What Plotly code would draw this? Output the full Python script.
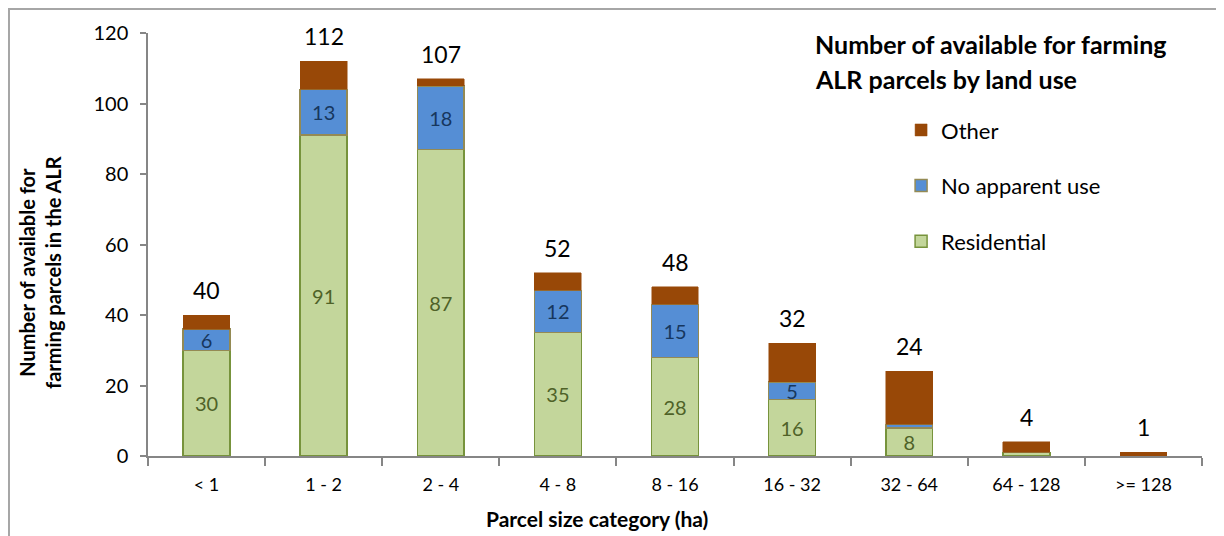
import plotly.graph_objects as go

# parcel size categories (ha)
categories = ["< 1", "1 - 2", "2 - 4", "4 - 8", "8 - 16", "16 - 32", "32 - 64", "64 - 128", ">= 128"]
residential = [30, 91, 87, 35, 28, 16, 8, 1, 0]
no_use = [6, 13, 18, 12, 15, 5, 1, 0, 0]
other = [4, 8, 2, 5, 5, 11, 15, 3, 1]
totals = [40, 112, 107, 52, 48, 32, 24, 4, 1]

res_labels = [str(v) if v >= 8 else "" for v in residential]
use_labels = [str(v) if v >= 5 else "" for v in no_use]

FONT = "Lato, 'Open Sans', sans-serif"

fig = go.Figure()
fig.add_trace(go.Bar(
    x=categories, y=residential, name="Residential",
    marker=dict(color="#C3D69B", line=dict(color="#77933C", width=1.5)),
    text=res_labels, textposition="inside", insidetextanchor="middle",
    textangle=0, constraintext="none",
    textfont=dict(size=20, color="#4F6228", family=FONT),
    legendgroup="r", legendrank=3,
))
fig.add_trace(go.Bar(
    x=categories, y=no_use, name="No apparent use",
    marker=dict(color="#558ED5", line=dict(color="#948A54", width=1.5)),
    text=use_labels, textposition="inside", insidetextanchor="middle",
    textangle=0, constraintext="none",
    textfont=dict(size=20, color="#17375E", family=FONT),
    legendgroup="n", legendrank=2,
))
fig.add_trace(go.Bar(
    x=categories, y=other, name="Other",
    marker=dict(color="#984807", line=dict(color="#984807", width=0.5)),
    legendgroup="o", legendrank=1,
))

# totals above each stack
for c, t in zip(categories, totals):
    fig.add_annotation(x=c, y=t, text=str(t), showarrow=False, yanchor="middle",
                       yshift=25, font=dict(size=23, color="black", family=FONT))

# legend title (two lines)
fig.add_annotation(xref="paper", yref="paper", x=0.631, y=0.974, xanchor="left", yanchor="middle",
                   text="<b>Number of available for farming</b>", showarrow=False,
                   font=dict(size=25, color="black", family=FONT))
fig.add_annotation(xref="paper", yref="paper", x=0.631, y=0.891, xanchor="left", yanchor="middle",
                   text="<b>ALR parcels by land use</b>", showarrow=False,
                   font=dict(size=25, color="black", family=FONT))

# axis titles
fig.add_annotation(xref="paper", yref="paper", x=0.426, y=-0.147, xanchor="center", yanchor="middle",
                   text="<b>Parcel size category (ha)</b>", showarrow=False,
                   font=dict(size=21, color="black", family=FONT))
fig.add_annotation(xref="paper", yref="paper", x=-0.1025, y=0.435, xanchor="center", yanchor="middle",
                   text="<b>Number of available for<br>farming parcels in the ALR</b>", showarrow=False,
                   textangle=-90, font=dict(size=20, color="black", family=FONT))

# chart frame
fig.add_shape(type="rect", xref="paper", yref="paper", x0=-0.1319, x1=1.2, y0=-0.4, y1=1.0567,
              line=dict(color="#A6A6A6", width=2), layer="above")

fig.update_layout(
    width=1216, height=528,
    margin=dict(l=140, r=22, t=25, b=80),
    paper_bgcolor="white", plot_bgcolor="white",
    barmode="stack", bargap=0.6,
    font=dict(family=FONT, color="black"),
    showlegend=True,
    legend=dict(x=0.7145, y=0.82, xanchor="left", yanchor="top",
                traceorder="grouped", tracegroupgap=24,
                font=dict(size=22, family=FONT, color="black"),
                bgcolor="rgba(0,0,0,0)"),
)
fig.update_xaxes(
    type="category", showline=True, linecolor="#868686", linewidth=1.5,
    ticks="outside", tickson="boundaries", ticklen=8, tickcolor="#868686", tickwidth=1.5,
    ticklabelstandoff=12, tickfont=dict(size=18, family=FONT, color="black"),
    showgrid=False, zeroline=False,
)
fig.update_yaxes(
    range=[0, 120], dtick=20, showline=True, linecolor="#868686", linewidth=1.5,
    ticks="outside", ticklen=6, tickcolor="#868686", tickwidth=1.5,
    ticklabelstandoff=8, tickfont=dict(size=20, family=FONT, color="black"),
    showgrid=False, zeroline=False,
)

fig.write_html("out.html")
